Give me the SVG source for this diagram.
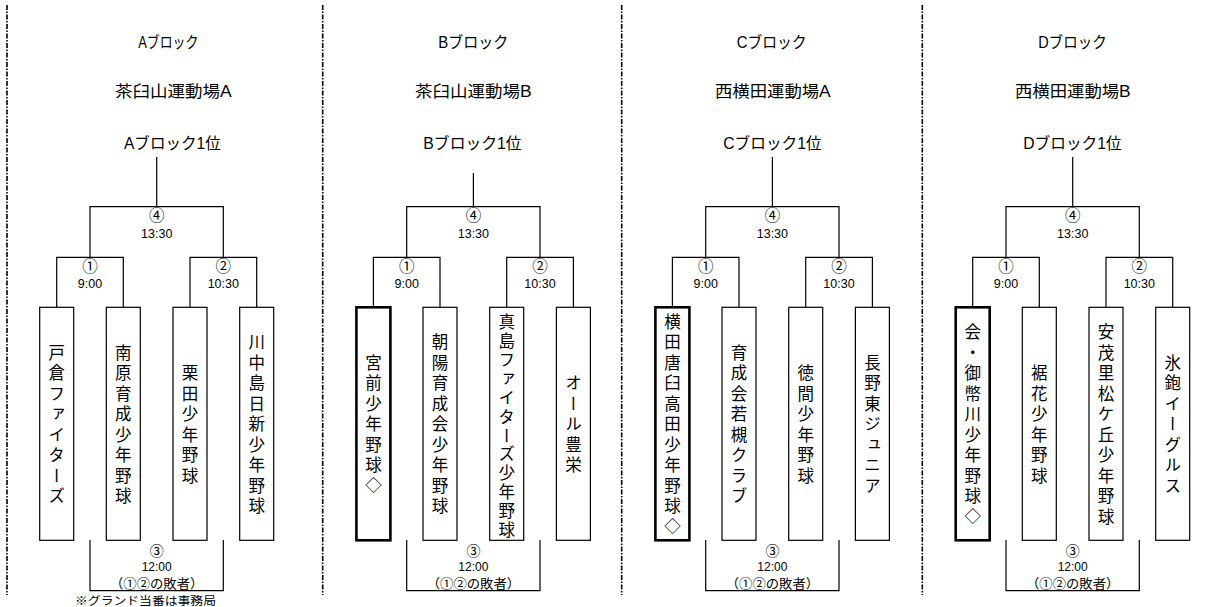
<svg xmlns="http://www.w3.org/2000/svg" width="1213" height="607" viewBox="0 0 1213 607">
<style>
text{font-family:"Liberation Sans","Noto Sans CJK JP",sans-serif;fill:#000}
.h{font-size:16px}
.l{font-size:12.5px;text-anchor:middle}
.s{font-size:12px;text-anchor:middle}
.c{font-size:15.5px;text-anchor:middle;font-family:"Noto Sans CJK JP",sans-serif}
.c3{font-size:14px;text-anchor:middle;font-family:"Noto Sans CJK JP",sans-serif}
.p{font-size:13px;text-anchor:middle;font-family:"Noto Sans CJK JP",sans-serif}
.t{font-size:16.5px;writing-mode:vertical-rl;text-anchor:middle;letter-spacing:4px;font-family:"Noto Sans CJK JP",sans-serif}
.b{fill:#fff;stroke:#000;stroke-width:1.2}
.bk{fill:#fff;stroke:#000;stroke-width:2.6}
.ln{fill:none;stroke:#000;stroke-width:1.2}
.ds{fill:none;stroke:#000;stroke-width:1.6;stroke-dasharray:5 1.5 1.5 1.5}
</style>
<rect width="1213" height="607" fill="#fff"/>
<g id="separators">
<path class="ds" d="M7 5V595M322.7 5V595M621.7 5V595M922.3 5V595"/>
</g>
<g id="headers">
<text class="h" x="138.3" y="47.5" textLength="60" lengthAdjust="spacingAndGlyphs">Aブロック</text>
<text class="h" x="115" y="97" textLength="116.7" lengthAdjust="spacingAndGlyphs">茶臼山運動場A</text>
<text class="h" x="124" y="149" textLength="96.7" lengthAdjust="spacingAndGlyphs">Aブロック1位</text>
<text class="h" x="438.3" y="47.5" textLength="70" lengthAdjust="spacingAndGlyphs">Bブロック</text>
<text class="h" x="415" y="97" textLength="116.7" lengthAdjust="spacingAndGlyphs">茶臼山運動場B</text>
<text class="h" x="423.3" y="149" textLength="98.3" lengthAdjust="spacingAndGlyphs">Bブロック1位</text>
<text class="h" x="736.7" y="47.5" textLength="70" lengthAdjust="spacingAndGlyphs">Cブロック</text>
<text class="h" x="715" y="97" textLength="115.7" lengthAdjust="spacingAndGlyphs">西横田運動場A</text>
<text class="h" x="723.3" y="149" textLength="98.3" lengthAdjust="spacingAndGlyphs">Cブロック1位</text>
<text class="h" x="1038.3" y="47.5" textLength="68.3" lengthAdjust="spacingAndGlyphs">Dブロック</text>
<text class="h" x="1015" y="97" textLength="115.7" lengthAdjust="spacingAndGlyphs">西横田運動場B</text>
<text class="h" x="1023.3" y="149" textLength="98.3" lengthAdjust="spacingAndGlyphs">Dブロック1位</text>
</g>
<g id="connectors">
<g transform="translate(0,0)"><path class="ln" d="M56.7 307V257.3H123.3V307M190 307V257.3H256.7V307M90 257.3V206.7H223.3V257.3M156.7 206.7V157M90 540V590.7H223.3V540"/></g>
<g transform="translate(316.7,0)"><path class="ln" d="M56.7 307V257.3H123.3V307M190 307V257.3H256.7V307M90 257.3V206.7H223.3V257.3M156.7 206.7V173M90 540V590.7H223.3V540"/></g>
<g transform="translate(615.7,0)"><path class="ln" d="M56.7 307V257.3H123.3V307M190 307V257.3H256.7V307M90 257.3V206.7H223.3V257.3M156.7 206.7V157M90 540V590.7H223.3V540"/></g>
<g transform="translate(916,0)"><path class="ln" d="M56.7 307V257.3H123.3V307M190 307V257.3H256.7V307M90 257.3V206.7H223.3V257.3M156.7 206.7V157M90 540V590.7H223.3V540"/></g>
</g>
<g id="labels">
<g transform="translate(0,0)">
<text class="c" x="156.7" y="221.4">④</text><text class="l" x="156.7" y="237.7">13:30</text>
<text class="c" x="90" y="271.9">①</text><text class="l" x="90" y="287.7">9:00</text>
<text class="c" x="223.3" y="271.9">②</text><text class="l" x="223.3" y="287.7">10:30</text>
<text class="c3" x="156.7" y="555.5">③</text><text class="s" x="156.7" y="571">12:00</text>
<text class="p" x="156.7" y="587.5" textLength="93.3" lengthAdjust="spacingAndGlyphs">（①②の敗者）</text>
</g>
<g transform="translate(316.7,0)">
<text class="c" x="156.7" y="221.4">④</text><text class="l" x="156.7" y="237.7">13:30</text>
<text class="c" x="90" y="271.9">①</text><text class="l" x="90" y="287.7">9:00</text>
<text class="c" x="223.3" y="271.9">②</text><text class="l" x="223.3" y="287.7">10:30</text>
<text class="c3" x="156.7" y="555.5">③</text><text class="s" x="156.7" y="571">12:00</text>
<text class="p" x="156.7" y="587.5" textLength="93.3" lengthAdjust="spacingAndGlyphs">（①②の敗者）</text>
</g>
<g transform="translate(615.7,0)">
<text class="c" x="156.7" y="221.4">④</text><text class="l" x="156.7" y="237.7">13:30</text>
<text class="c" x="90" y="271.9">①</text><text class="l" x="90" y="287.7">9:00</text>
<text class="c" x="223.3" y="271.9">②</text><text class="l" x="223.3" y="287.7">10:30</text>
<text class="c3" x="156.7" y="555.5">③</text><text class="s" x="156.7" y="571">12:00</text>
<text class="p" x="156.7" y="587.5" textLength="93.3" lengthAdjust="spacingAndGlyphs">（①②の敗者）</text>
</g>
<g transform="translate(916,0)">
<text class="c" x="156.7" y="221.4">④</text><text class="l" x="156.7" y="237.7">13:30</text>
<text class="c" x="90" y="271.9">①</text><text class="l" x="90" y="287.7">9:00</text>
<text class="c" x="223.3" y="271.9">②</text><text class="l" x="223.3" y="287.7">10:30</text>
<text class="c3" x="156.7" y="555.5">③</text><text class="s" x="156.7" y="571">12:00</text>
<text class="p" x="156.7" y="587.5" textLength="93.3" lengthAdjust="spacingAndGlyphs">（①②の敗者）</text>
</g>
<text x="75" y="605" style="font-size:11.5px;font-family:'Noto Sans CJK JP',sans-serif" textLength="141" lengthAdjust="spacingAndGlyphs">※グランド当番は事務局</text>
</g>
<g id="teams">
<g id="A1"><rect class="b" x="39.7" y="307.3" width="34" height="233"/><text class="t" x="56.7" y="426">戸倉ファイターズ</text></g>
<g id="A2"><rect class="b" x="106.3" y="307.3" width="34" height="233"/><text class="t" x="123.3" y="426">南原育成少年野球</text></g>
<g id="A3"><rect class="b" x="173" y="307.3" width="34" height="233"/><text class="t" x="190" y="426">栗田少年野球</text></g>
<g id="A4"><rect class="b" x="239.7" y="307.3" width="34" height="233"/><text class="t" x="256.7" y="426">川中島日新少年野球</text></g>
<g id="B1"><rect class="bk" x="356.4" y="307.3" width="34" height="233"/><text class="t" x="373.4" y="426">宮前少年野球◇</text></g>
<g id="B2"><rect class="b" x="423" y="307.3" width="34" height="233"/><text class="t" x="440" y="426">朝陽育成会少年野球</text></g>
<g id="B3"><rect class="b" x="489.7" y="307.3" width="34" height="233"/><text class="t" x="506.7" y="427" style="letter-spacing:2.4px">真島ファイターズ少年野球</text></g>
<g id="B4"><rect class="b" x="556.4" y="307.3" width="34" height="233"/><text class="t" x="573.4" y="426">オール豊栄</text></g>
<g id="C1"><rect class="bk" x="655.4" y="307.3" width="34" height="233"/><text class="t" x="672.4" y="426">横田唐臼高田少年野球◇</text></g>
<g id="C2"><rect class="b" x="722" y="307.3" width="34" height="233"/><text class="t" x="739" y="426">育成会若槻クラブ</text></g>
<g id="C3"><rect class="b" x="788.7" y="307.3" width="34" height="233"/><text class="t" x="805.7" y="426">徳間少年野球</text></g>
<g id="C4"><rect class="b" x="855.4" y="307.3" width="34" height="233"/><text class="t" x="872.4" y="426">長野東ジュニア</text></g>
<g id="D1"><rect class="bk" x="955.7" y="307.3" width="34" height="233"/><text class="t" x="972.7" y="426">会・御幣川少年野球◇</text></g>
<g id="D2"><rect class="b" x="1022.3" y="307.3" width="34" height="233"/><text class="t" x="1039.3" y="426">裾花少年野球</text></g>
<g id="D3"><rect class="b" x="1089" y="307.3" width="34" height="233"/><text class="t" x="1106" y="426">安茂里松ケ丘少年野球</text></g>
<g id="D4"><rect class="b" x="1155.7" y="307.3" width="34" height="233"/><text class="t" x="1172.7" y="426">氷鉋イーグルス</text></g>
</g>
</svg>
